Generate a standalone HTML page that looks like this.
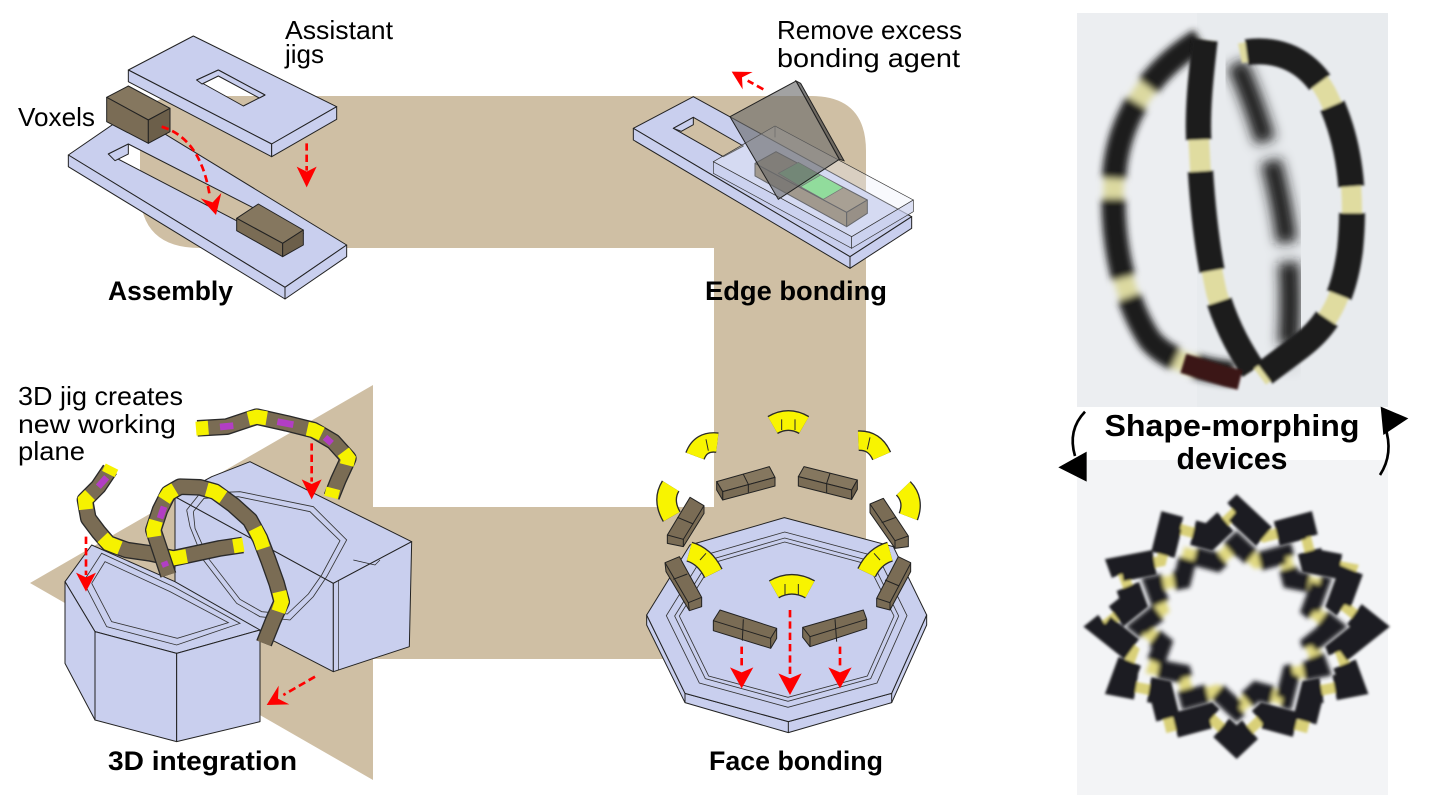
<!DOCTYPE html>
<html><head><meta charset="utf-8"><style>
html,body{margin:0;padding:0;background:#fff;}
svg{display:block;}
text{font-family:"Liberation Sans",sans-serif;fill:#000;}
.p{fill:#c9cfee;stroke:#222;stroke-width:3;stroke-linejoin:round;}
.vt{fill:#85775f;stroke:#222;stroke-width:3;stroke-linejoin:round;}
.vf{fill:#7a6c55;stroke:#222;stroke-width:3;stroke-linejoin:round;}
.vs{fill:#6c5f4a;stroke:#222;stroke-width:3;stroke-linejoin:round;}
.ln{fill:none;stroke:#222;stroke-width:3;}
.gr{fill:none;stroke:#333;stroke-width:2.5;}
.rd{fill:none;stroke:#f00;stroke-width:8;stroke-dasharray:22 12;}
.rh{fill:#f00;}
.co{fill:none;stroke:#2a2a2a;stroke-width:50;stroke-linejoin:round;stroke-linecap:butt;}
.cb{fill:none;stroke:#7a6c54;stroke-width:42;stroke-linejoin:round;stroke-linecap:butt;}
.cy{fill:none;stroke:#f6f200;stroke-width:42;stroke-linecap:butt;}
.cp{fill:none;stroke:#b23ec4;stroke-width:20;stroke-linecap:butt;}
.yo{fill:none;stroke:#2a2a2a;stroke-width:62;stroke-linecap:butt;}
.yy{fill:none;stroke:#f8f400;stroke-width:54;stroke-linecap:butt;}
.yl{fill:none;stroke:#2a2a2a;stroke-width:3;}
</style></head><body>
<svg width="1430" height="806" viewBox="0 0 1430 806" xmlns="http://www.w3.org/2000/svg">
<defs>
 <filter id="b1" x="-20%" y="-20%" width="140%" height="140%"><feGaussianBlur stdDeviation="10"/></filter>
 <filter id="b2" x="-20%" y="-20%" width="140%" height="140%"><feGaussianBlur stdDeviation="4"/></filter>
 <filter id="b3" x="-20%" y="-20%" width="140%" height="140%"><feGaussianBlur stdDeviation="18"/></filter>
</defs>
<rect width="1430" height="806" fill="#fff"/>

<!-- tan process band -->
<path d="M140,136 Q140,96 180,96 L811,96 Q866,96 866,151 L866,659 L373,659 L373,780 L30,583 L373,385 L373,507 L714,507 L714,248 L200,248 Q140,248 140,190 Z" fill="#cfbfa4"/>

<!-- ============ ASSEMBLY ============ -->
<g transform="scale(0.333333)">
 <path class="p" fill-rule="evenodd" d="M205,465 L390,338 L1040,735 L855,862 Z M325,462 L385,432 L910,700 L850,735 Z"/>
 <polygon class="p" points="205,465 855,862 855,897 205,500"/>
 <polygon class="p" points="855,862 1040,735 1040,770 855,897"/>
 <polygon class="p" points="325,462 385,432 385,462 345,482"/>
 <polygon class="vt" points="710,655 775,612 910,690 848,730"/>
 <polygon class="vf" points="710,655 848,730 848,770 710,692"/>
 <polygon class="vs" points="848,730 910,690 910,735 848,770"/>
 <path class="p" fill-rule="evenodd" d="M385,210 L580,108 L1010,320 L815,432 Z M590,240 L655,210 L795,285 L730,318 Z"/>
 <polygon class="p" points="590,240 655,210 795,285 778,294 655,228 606,252"/>
 <polygon class="p" points="385,210 815,432 815,470 385,245"/>
 <polygon class="p" points="815,432 1010,320 1010,358 815,470"/>
 <polygon class="vt" points="320,292 385,258 510,325 445,360"/>
 <polygon class="vf" points="320,292 445,360 445,430 320,365"/>
 <polygon class="vs" points="445,360 510,325 510,395 445,430"/>
 <path class="rd" d="M485,380 Q600,415 628,580"/>
 <polygon class="rh" points="648,645 602,595 638,607 664,579"/>
 <path class="rd" d="M920,430 L920,512"/>
 <polygon class="rh" points="920,562 890,500 920,515 950,500"/>
</g>

<!-- ============ EDGE BONDING ============ -->
<g transform="translate(580,0) scale(0.333333)">
 <path class="p" fill-rule="evenodd" d="M160,385 L340,290 L995,650 L810,770 Z M280,385 L340,352 L490,438 L430,470 Z"/>
 <polygon class="p" points="280,385 340,352 340,374 304,394"/>
 <polygon class="p" points="160,385 810,770 810,805 160,420"/>
 <polygon class="p" points="810,770 995,650 995,685 810,805"/>
 <polygon class="vf" points="525,490 800,637 800,680 525,528"/>
 <polygon class="vt" points="525,490 588,455 862,600 800,637"/>
 <polygon class="vs" points="800,637 862,600 862,640 800,680"/>
 <polygon points="595,520 655,487 722,525 662,560" fill="#4f9b57" stroke="#333" stroke-width="2"/>
 <polygon points="662,560 722,525 790,563 730,598" fill="#62d36b" stroke="#333" stroke-width="2"/>
 <polygon points="400,485 585,378 1000,600 815,710" fill="rgba(235,238,250,0.35)" stroke="#333" stroke-width="2"/>
 <polygon points="400,485 815,710 815,745 400,520" fill="rgba(205,211,240,0.7)" stroke="#333" stroke-width="2"/>
 <polygon points="815,710 1000,600 1000,635 815,745" fill="rgba(205,211,240,0.7)" stroke="#333" stroke-width="2"/>
 <line x1="585" y1="378" x2="585" y2="412" stroke="#666" stroke-width="2"/>
 <polygon points="648,243 662,250 792,482 778,478" fill="rgba(70,70,70,0.7)" stroke="#222" stroke-width="3"/>
 <polygon points="450,350 648,243 778,478 595,598" fill="rgba(105,105,105,0.62)" stroke="#222" stroke-width="3"/>
 <path class="rd" d="M550,268 L503,242"/>
 <polygon class="rh" points="455,215 488,268 486,232 518,216"/>
</g>

<!-- ============ 3D INTEGRATION ============ -->
<g transform="translate(60,450) scale(0.333333)">
 <polygon class="p" points="345,140 820,400 820,665 345,420"/>
 <polygon class="p" points="345,140 455,80 570,35 1055,275 820,400"/>
 <polygon class="p" points="820,400 1055,275 1048,590 820,665"/>
 <line class="ln" x1="835" y1="392" x2="835" y2="660" style="stroke-width:2"/>
 <polyline class="ln" points="880,330 945,345 960,330" style="stroke-width:2"/>
 <polyline class="gr" points="380,180 420,130 540,125 760,170 860,270 800,380 760,440 690,510 600,500 530,460 430,330 390,230 380,180"/>
 <polyline class="gr" points="400,185 432,145 535,140 750,185 840,272 785,375 745,432 682,492 605,485 540,448 445,325 405,235 400,185"/>
 <polygon class="p" points="15,395 95,285 345,395 600,540 350,610 105,545"/>
 <polygon class="p" points="15,395 105,545 105,810 15,640"/>
 <polygon class="p" points="105,545 350,610 350,875 105,810"/>
 <polygon class="p" points="350,610 600,540 600,815 350,875"/>
 <polyline class="gr" points="70,395 125,310 340,410 540,520 350,585 140,530 70,395"/>
 <polyline class="gr" points="95,400 135,335 330,425 505,518 352,565 155,515 95,400"/>
 <polyline class="co" points="150,58 115,110 75,150 85,205 115,245 145,280 200,300 270,310 340,325 410,310 480,295 548,285"/>
 <polyline class="cb" points="150,58 115,110 75,150 85,205 115,245 145,280 200,300 270,310 340,325 410,310 480,295 548,285"/>
 <polyline class="cy" points="156,50 145,72"/>
 <polyline class="cy" points="90,135 75,150 78,178"/>
 <polyline class="cy" points="128,262 145,280 180,294"/>
 <polyline class="cy" points="305,318 340,325 380,318"/>
 <polyline class="cy" points="520,289 550,284"/>
 <polyline class="cp" points="115,110 140,82"/>
 <polyline class="co" points="325,375 300,300 280,240 300,180 325,130 360,110 420,112 465,125 520,165 570,210 600,265 625,330 650,400 665,455 640,510 612,580"/>
 <polyline class="cb" points="325,375 300,300 280,240 300,180 325,130 360,110 420,112 465,125 520,165 570,210 600,265 625,330 650,400 665,455 640,510 612,580"/>
 <polyline class="cy" points="283,260 280,240 288,212"/>
 <polyline class="cy" points="312,150 325,130 345,118"/>
 <polyline class="cy" points="440,118 465,125 490,142"/>
 <polyline class="cy" points="585,235 600,265 610,295"/>
 <polyline class="cy" points="658,425 665,455 655,485"/>
 <polyline class="cp" points="300,205 312,170"/>
 <polyline class="cp" points="318,350 312,335"/>
</g>
<g transform="translate(0,380) scale(0.333333)">
 <polyline class="co" points="592,145 680,140 770,110 860,130 940,150 1000,185 1045,235 1015,300 995,350"/>
 <polyline class="cb" points="592,145 680,140 770,110 860,130 940,150 1000,185 1045,235 1015,300 995,350"/>
 <polyline class="cy" points="588,146 625,143"/>
 <polyline class="cy" points="745,116 770,110 800,115"/>
 <polyline class="cy" points="922,146 940,150 965,162"/>
 <polyline class="cy" points="1030,215 1045,235 1040,255"/>
 <polyline class="cy" points="1000,325 993,352"/>
 <polyline class="cp" points="660,141 700,137"/>
 <polyline class="cp" points="832,125 880,134"/>
 <polyline class="cp" points="975,172 995,190"/>
 <path class="rd" d="M258,470 L258,585"/>
 <polygon class="rh" points="258,635 228,578 258,592 288,578"/>
 <path class="rd" d="M935,190 L935,305"/>
 <polygon class="rh" points="935,358 905,298 935,312 965,298"/>
 <path class="rd" d="M945,890 L850,945"/>
 <polygon class="rh" points="800,975 868,973 834,956 836,917"/>
</g>

<!-- ============ FACE BONDING ============ -->
<g transform="translate(580,380) scale(0.333333)">
 <polygon class="p" points="200,705 315,940 625,1025 935,940 1040,705 1040,735 935,968 625,1058 315,968 200,735"/>
 <polygon class="p" points="613,413 940,500 1040,705 935,940 625,1025 315,940 200,705 330,495"/>
 <line class="ln" x1="315" y1="940" x2="315" y2="968"/>
 <line class="ln" x1="625" y1="1025" x2="625" y2="1058"/>
 <line class="ln" x1="935" y1="940" x2="935" y2="968"/>
 <polygon class="gr" points="614,456 895,531 981,707 891,909 624,982 358,909 259,707 371,526"/>
 <polygon class="gr" points="614,474 876,544 956,708 872,896 624,964 376,896 284,708 388,540"/>
 <polygon class="gr" points="614,486 864,553 942,708 862,888 624,952 386,888 298,708 398,549"/>
 <polygon class="vt" points="410,305 568,260 585,292 428,335"/>
 <polygon class="vf" points="428,335 585,292 585,318 428,360"/>
 <polygon class="vs" points="410,305 428,335 428,360 410,330"/>
 <polyline class="ln" points="490,283 505,313 505,338"/>
 <polygon class="vt" points="672,260 832,300 815,330 655,290"/>
 <polygon class="vf" points="655,290 815,330 815,358 655,318"/>
 <polygon class="vs" points="815,330 832,300 832,328 815,358"/>
 <polyline class="ln" points="750,280 740,310 740,338"/>
 <polygon class="vf" points="330,352 372,377 372,400 310,500 262,490 262,465"/>
 <polyline class="ln" points="262,465 310,478 372,377"/>
 <polyline class="ln" points="310,478 310,500"/>
 <polyline class="ln" points="292,412 340,432"/>
 <polygon class="vf" points="255,548 298,530 365,652 365,680 328,692 258,575"/>
 <polyline class="ln" points="255,548 325,668 365,652"/>
 <polyline class="ln" points="325,668 328,692"/>
 <polyline class="ln" points="280,598 322,582"/>
 <polygon class="vf" points="870,372 910,355 985,468 985,500 945,505 870,398"/>
 <polyline class="ln" points="870,372 945,482 985,468"/>
 <polyline class="ln" points="945,482 945,505"/>
 <polyline class="ln" points="905,428 948,412"/>
 <polygon class="vf" points="890,655 955,530 992,548 992,575 930,690 890,680"/>
 <polyline class="ln" points="890,655 930,668 992,550"/>
 <polyline class="ln" points="930,668 930,690"/>
 <polyline class="ln" points="915,600 958,618"/>
 <polygon class="vf" points="400,722 420,690 590,745 590,775 572,805 400,752"/>
 <polyline class="ln" points="400,722 572,775 590,745"/>
 <polyline class="ln" points="572,775 572,805"/>
 <polyline class="ln" points="490,718 487,782"/>
 <polygon class="vf" points="668,742 850,690 860,718 860,745 690,800 668,772"/>
 <polyline class="ln" points="668,742 690,770 860,718"/>
 <polyline class="ln" points="690,770 690,800"/>
 <polyline class="ln" points="765,718 770,785"/>
 <g>
  <path class="yo" d="M578,135 Q625,108 672,135"/><path class="yy" d="M578,135 Q625,108 672,135"/>
  <line class="yl" x1="605" y1="118" x2="605" y2="150"/><line class="yl" x1="645" y1="118" x2="645" y2="150"/>
  <path class="yo" d="M345,228 Q362,182 412,188"/><path class="yy" d="M345,228 Q362,182 412,188"/>
  <line class="yl" x1="378" y1="178" x2="385" y2="212"/>
  <path class="yo" d="M835,182 Q884,180 905,228"/><path class="yy" d="M835,182 Q884,180 905,228"/>
  <line class="yl" x1="870" y1="172" x2="862" y2="208"/>
  <path class="yo" d="M272,318 Q246,360 275,410"/><path class="yy" d="M272,318 Q246,360 275,410"/>
  <path class="yo" d="M970,325 Q1004,360 985,410"/><path class="yy" d="M970,325 Q1004,360 985,410"/>
  <path class="yo" d="M328,515 Q374,528 400,580"/><path class="yy" d="M328,515 Q374,528 400,580"/>
  <line class="yl" x1="360" y1="540" x2="378" y2="520"/>
  <path class="yo" d="M930,515 Q884,528 860,578"/><path class="yy" d="M930,515 Q884,528 860,578"/>
  <line class="yl" x1="900" y1="540" x2="882" y2="520"/>
  <path class="yo" d="M582,628 Q635,598 690,628"/><path class="yy" d="M582,628 Q635,598 690,628"/>
  <line class="yl" x1="615" y1="612" x2="615" y2="645"/><line class="yl" x1="655" y1="612" x2="655" y2="645"/>
 </g>
 <path class="rd" d="M485,800 L485,868"/>
 <polygon class="rh" points="485,925 450,862 485,877 520,862"/>
 <path class="rd" d="M630,690 L630,888"/>
 <polygon class="rh" points="630,945 595,880 630,895 665,880"/>
 <path class="rd" d="M780,800 L780,868"/>
 <polygon class="rh" points="780,925 745,862 780,877 815,862"/>
</g>

<!-- ============ PHOTOS ============ -->
<rect x="1077" y="13" width="311" height="394" fill="#e8ebee"/>
<rect x="1077" y="13" width="120" height="394" fill="#eef0f2" opacity="0.7"/>
<rect x="1077" y="460" width="311" height="335" fill="#f3f4f6"/>
<g transform="translate(1040,0) scale(0.333333)">
 <g filter="url(#b3)">
  <path d="M590,190 C640,300 690,450 720,600 C750,750 760,900 740,1100" fill="none" stroke="#1a1a1c" stroke-width="62" stroke-dasharray="250 60"/>
 </g>
 <g filter="url(#b1)">
  <path d="M480,120 C380,180 250,300 225,500 C205,700 250,900 330,1020 C380,1080 480,1110 580,1120" fill="none" stroke="#dcd9a0" stroke-width="60"/>
  <path d="M480,120 C380,180 250,300 225,500 C205,700 250,900 330,1020 C380,1080 480,1110 580,1120" fill="none" stroke="#1c1c1e" stroke-width="72" stroke-dasharray="240 60" stroke-dashoffset="30"/>
 </g>
 <g filter="url(#b2)">
  <path d="M495,120 C480,250 470,350 478,450 C485,600 500,750 530,880 C560,980 600,1050 640,1110" fill="none" stroke="#e0dca0" stroke-width="62"/>
  <path d="M495,120 C480,250 470,350 478,450 C485,600 500,750 530,880 C560,980 600,1050 640,1110" fill="none" stroke="#1a1a1c" stroke-width="76" stroke-dasharray="300 95"/>
  <path d="M600,160 C700,140 800,170 860,280 C920,400 950,550 930,750 C910,900 860,980 780,1040 C740,1070 700,1100 660,1130" fill="none" stroke="#e0dca0" stroke-width="60"/>
  <path d="M600,160 C700,140 800,170 860,280 C920,400 950,550 930,750 C910,900 860,980 780,1040 C740,1070 700,1100 660,1130" fill="none" stroke="#1a1a1c" stroke-width="78" stroke-dasharray="250 80" stroke-dashoffset="-20"/>
  <path d="M430,1090 L560,1130 L600,1140" fill="none" stroke="#3a1814" stroke-width="60"/>
 </g>
</g>
<g transform="translate(1040,380) scale(0.333333)">
 <g transform="translate(590,745) scale(1,1.05) translate(-590,-745)">
 <g filter="url(#b1)" transform="translate(590,740) scale(0.72) translate(-590,-740)">
  <polygon points="990,740 899,809 936,905 816,927 790,1026 673,996 590,1070 507,996 390,1026 364,927 244,905 281,809 190,740 281,671 244,575 364,553 390,454 507,484 590,410 673,484 790,454 816,553 936,575 899,671" fill="none" stroke="#e0d880" stroke-width="50"/>
  <polygon points="990,740 899,809 936,905 816,927 790,1026 673,996 590,1070 507,996 390,1026 364,927 244,905 281,809 190,740 281,671 244,575 364,553 390,454 507,484 590,410 673,484 790,454 816,553 936,575 899,671" fill="none" stroke="#1e1e22" stroke-width="75" stroke-dasharray="120 45"/>
 </g>
 <g filter="url(#b2)">
  <polygon points="990,740 899,809 936,905 816,927 790,1026 673,996 590,1070 507,996 390,1026 364,927 244,905 281,809 190,740 281,671 244,575 364,553 390,454 507,484 590,410 673,484 790,454 816,553 936,575 899,671" fill="none" stroke="#d9d078" stroke-width="30"/>
  <polygon points="990,740 899,809 936,905 816,927 790,1026 673,996 590,1070 507,996 390,1026 364,927 244,905 281,809 190,740 281,671 244,575 364,553 390,454 507,484 590,410 673,484 790,454 816,553 936,575 899,671" fill="none" stroke="#1f1f24" stroke-width="72" stroke-dasharray="115 40"/>
 </g>
 </g>
 <path d="M135,95 Q82,150 105,228" fill="none" stroke="#000" stroke-width="8"/>
 <polygon points="55,262 140,215 140,305" fill="#000"/>
 <path d="M1020,285 Q1062,220 1035,140" fill="none" stroke="#000" stroke-width="8"/>
 <polygon points="1105,115 1022,80 1030,165" fill="#000"/>
</g>

<!-- ============ TEXT ============ -->
<text x="285" y="39" font-size="26" textLength="108" lengthAdjust="spacingAndGlyphs">Assistant</text>
<text x="285" y="63" font-size="26">jigs</text>
<text x="18" y="126" font-size="26" textLength="77" lengthAdjust="spacingAndGlyphs">Voxels</text>
<text x="108" y="300" font-size="27" font-weight="bold" textLength="125" lengthAdjust="spacingAndGlyphs">Assembly</text>
<text x="777" y="39" font-size="26" textLength="185" lengthAdjust="spacingAndGlyphs">Remove excess</text>
<text x="777" y="67" font-size="26" textLength="183" lengthAdjust="spacingAndGlyphs">bonding agent</text>
<text x="705" y="300" font-size="27" font-weight="bold" textLength="182" lengthAdjust="spacingAndGlyphs">Edge bonding</text>
<text x="18" y="405" font-size="26" textLength="165" lengthAdjust="spacingAndGlyphs">3D jig creates</text>
<text x="18" y="433" font-size="26" textLength="158" lengthAdjust="spacingAndGlyphs">new working</text>
<text x="18" y="460" font-size="26" textLength="67" lengthAdjust="spacingAndGlyphs">plane</text>
<text x="108" y="770" font-size="27" font-weight="bold" textLength="189" lengthAdjust="spacingAndGlyphs">3D integration</text>
<text x="709" y="770" font-size="27" font-weight="bold" textLength="174" lengthAdjust="spacingAndGlyphs">Face bonding</text>
<text x="1232" y="436" font-size="31" font-weight="bold" text-anchor="middle" textLength="255" lengthAdjust="spacingAndGlyphs">Shape-morphing</text>
<text x="1232" y="469" font-size="31" font-weight="bold" text-anchor="middle" textLength="111" lengthAdjust="spacingAndGlyphs">devices</text>
</svg>
</body></html>
